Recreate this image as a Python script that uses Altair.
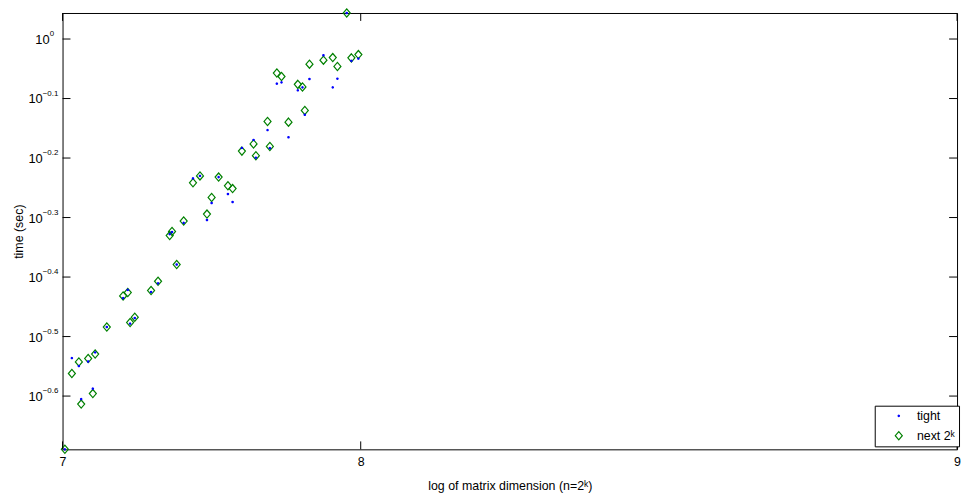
import altair as alt
import pandas as pd

# matrix dimension n (x is drawn linearly in n, labelled with k = log2 n)
n_vals = [129, 132, 135, 136, 139, 141, 142, 147, 154, 156, 157, 159, 166, 169,
          174, 175, 177, 180, 184, 187, 190, 192, 195, 199, 201, 205, 210, 211,
          216, 217, 220, 222, 225, 229, 231, 232, 234, 240, 244, 246, 250, 252, 255]
t_tight = [0.2044, 0.2910, 0.2822, 0.2483, 0.2871, 0.2585, 0.2974, 0.3281, 0.3669,
           0.3788, 0.3325, 0.3398, 0.3758, 0.3886, 0.4701, 0.4740, 0.4179, 0.4911,
           0.5833, 0.5888, 0.4964, 0.5302, 0.5861, 0.5490, 0.5322, 0.6561, 0.6767,
           0.6318, 0.7031, 0.6556, 0.8414, 0.8456, 0.6839, 0.8200, 0.8295, 0.7461,
           0.8566, 0.9393, 0.8295, 0.8577, 1.106, 0.9191, 0.9272]
t_next = [0.2044, 0.2741, 0.2866, 0.2435, 0.2904, 0.2536, 0.2955, 0.3281, 0.3701,
          0.3749, 0.3338, 0.3408, 0.3778, 0.3917, 0.4675, 0.4749, 0.4179, 0.4945,
          0.5733, 0.5888, 0.5079, 0.5417, 0.5861, 0.5667, 0.5606, 0.6481, 0.6664,
          0.6367, 0.7270, 0.6599, 0.8767, 0.8650, 0.7250, 0.8391, 0.8308, 0.7586,
          0.9074, 0.9215, 0.9307, 0.8993, 1.106, 0.9297, 0.9415]
series_names = ["tight", "next 2ᵏ"]
series_colors = ["#0000ff", "#008000"]

y_tick_exps = [0, -0.1, -0.2, -0.3, -0.4, -0.5, -0.6]
y_tick_text = ["0", "−0.1", "−0.2", "−0.3", "−0.4", "−0.5", "−0.6"]
x_tick_n = [128, 256, 512]

W, H = 902, 440
FONT = "Liberation Sans"
DIAMOND = "M0,-1.05L0.9,0L0,1.05L-0.9,0Z"

pts = pd.DataFrame({
    "n": n_vals + n_vals,
    "t": t_next + t_tight,
    "series": [series_names[1]] * len(n_vals) + [series_names[0]] * len(n_vals),
})
ytk = pd.DataFrame({"e": y_tick_exps, "lab": y_tick_text})
ytk["t"] = [10 ** e for e in y_tick_exps]
xtk = pd.DataFrame({"n": x_tick_n})

all_t = t_tight + t_next
yscale = alt.Scale(type="log", domain=[min(all_t), max(all_t)], nice=False)
xscale = alt.Scale(domain=[128, 512], nice=False, zero=False)

xaxis = alt.Axis(
    values=x_tick_n, labelExpr="'' + round(log(datum.value) / LN2)",
    ticks=False, tickSize=0, domain=False, grid=False, labelFlush=False,
    labelPadding=6, labelFont=FONT, labelFontSize=12.5, labelColor="black",
    title="log of matrix dimension (n=2ᵏ)", titleFont=FONT, titleFontSize=12.5,
    titleFontWeight="normal", titleColor="black", titlePadding=12)
yaxis = alt.Axis(
    labels=False, ticks=False, tickSize=0, domain=False, grid=False,
    title="time (sec)", titleFont=FONT, titleFontSize=12.5,
    titleFontWeight="normal", titleColor="black", titlePadding=37)

x_enc = alt.X("n:Q", scale=xscale, axis=xaxis)
y_enc = alt.Y("t:Q", scale=yscale, axis=yaxis)

leg = alt.Legend(
    title=None, orient="none", legendX=819, legendY=396,
    padding=4, strokeColor="black", fillColor="white", cornerRadius=0,
    labelFont=FONT, labelFontSize=12.5, labelColor="black",
    symbolOffset=14, labelOffset=12, rowPadding=6, symbolStrokeWidth=1.2,
)

points = alt.Chart(pts).mark_point(opacity=1, strokeWidth=1.2).encode(
    x=x_enc,
    y=y_enc,
    color=alt.Color("series:N", scale=alt.Scale(domain=series_names, range=series_colors), legend=leg),
    fill=alt.Fill("series:N", scale=alt.Scale(domain=series_names, range=["#0000ff", "transparent"]), legend=leg),
    shape=alt.Shape("series:N", scale=alt.Scale(domain=series_names, range=["circle", DIAMOND]), legend=leg),
    size=alt.Size("series:N", scale=alt.Scale(domain=series_names, range=[2, 62]), legend=leg),
)

ybase = alt.Chart(ytk).encode(y=y_enc)
xbase = alt.Chart(xtk).encode(x=x_enc)

tick_l = ybase.mark_rule(color="black", strokeWidth=1).encode(x=alt.value(0), x2=alt.value(8))
tick_r = ybase.mark_rule(color="black", strokeWidth=1).encode(x=alt.value(W - 8), x2=alt.value(W))
tick_b = xbase.mark_rule(color="black", strokeWidth=1).encode(y=alt.value(H - 8), y2=alt.value(H))
tick_t = xbase.mark_rule(color="black", strokeWidth=1).encode(y=alt.value(0), y2=alt.value(8))

ten_a = ybase.transform_filter("datum.e != 0").mark_text(
    align="right", baseline="middle", font=FONT, fontSize=13, color="black", dy=1
).encode(x=alt.value(-20), text=alt.value("10"))
exp_a = ybase.transform_filter("datum.e != 0").mark_text(
    align="left", baseline="alphabetic", font=FONT, fontSize=8, color="black", dy=-3
).encode(x=alt.value(-20), text="lab:N")
ten_b = ybase.transform_filter("datum.e == 0").mark_text(
    align="right", baseline="middle", font=FONT, fontSize=13, color="black", dy=1
).encode(x=alt.value(-13), text=alt.value("10"))
exp_b = ybase.transform_filter("datum.e == 0").mark_text(
    align="left", baseline="alphabetic", font=FONT, fontSize=8, color="black", dy=-3
).encode(x=alt.value(-13), text="lab:N")

chart = alt.layer(
    points, tick_l, tick_r, tick_b, tick_t, ten_a, exp_a, ten_b, exp_b
).properties(
    width=W, height=H,
    padding={"left": 55, "top": 3, "right": 5, "bottom": 42},
    autosize=alt.AutoSizeParams(type="none"),
    background="white",
).configure_view(stroke="black", strokeWidth=1)

chart.save("out.html", embed_options={"renderer": "svg", "actions": False})
